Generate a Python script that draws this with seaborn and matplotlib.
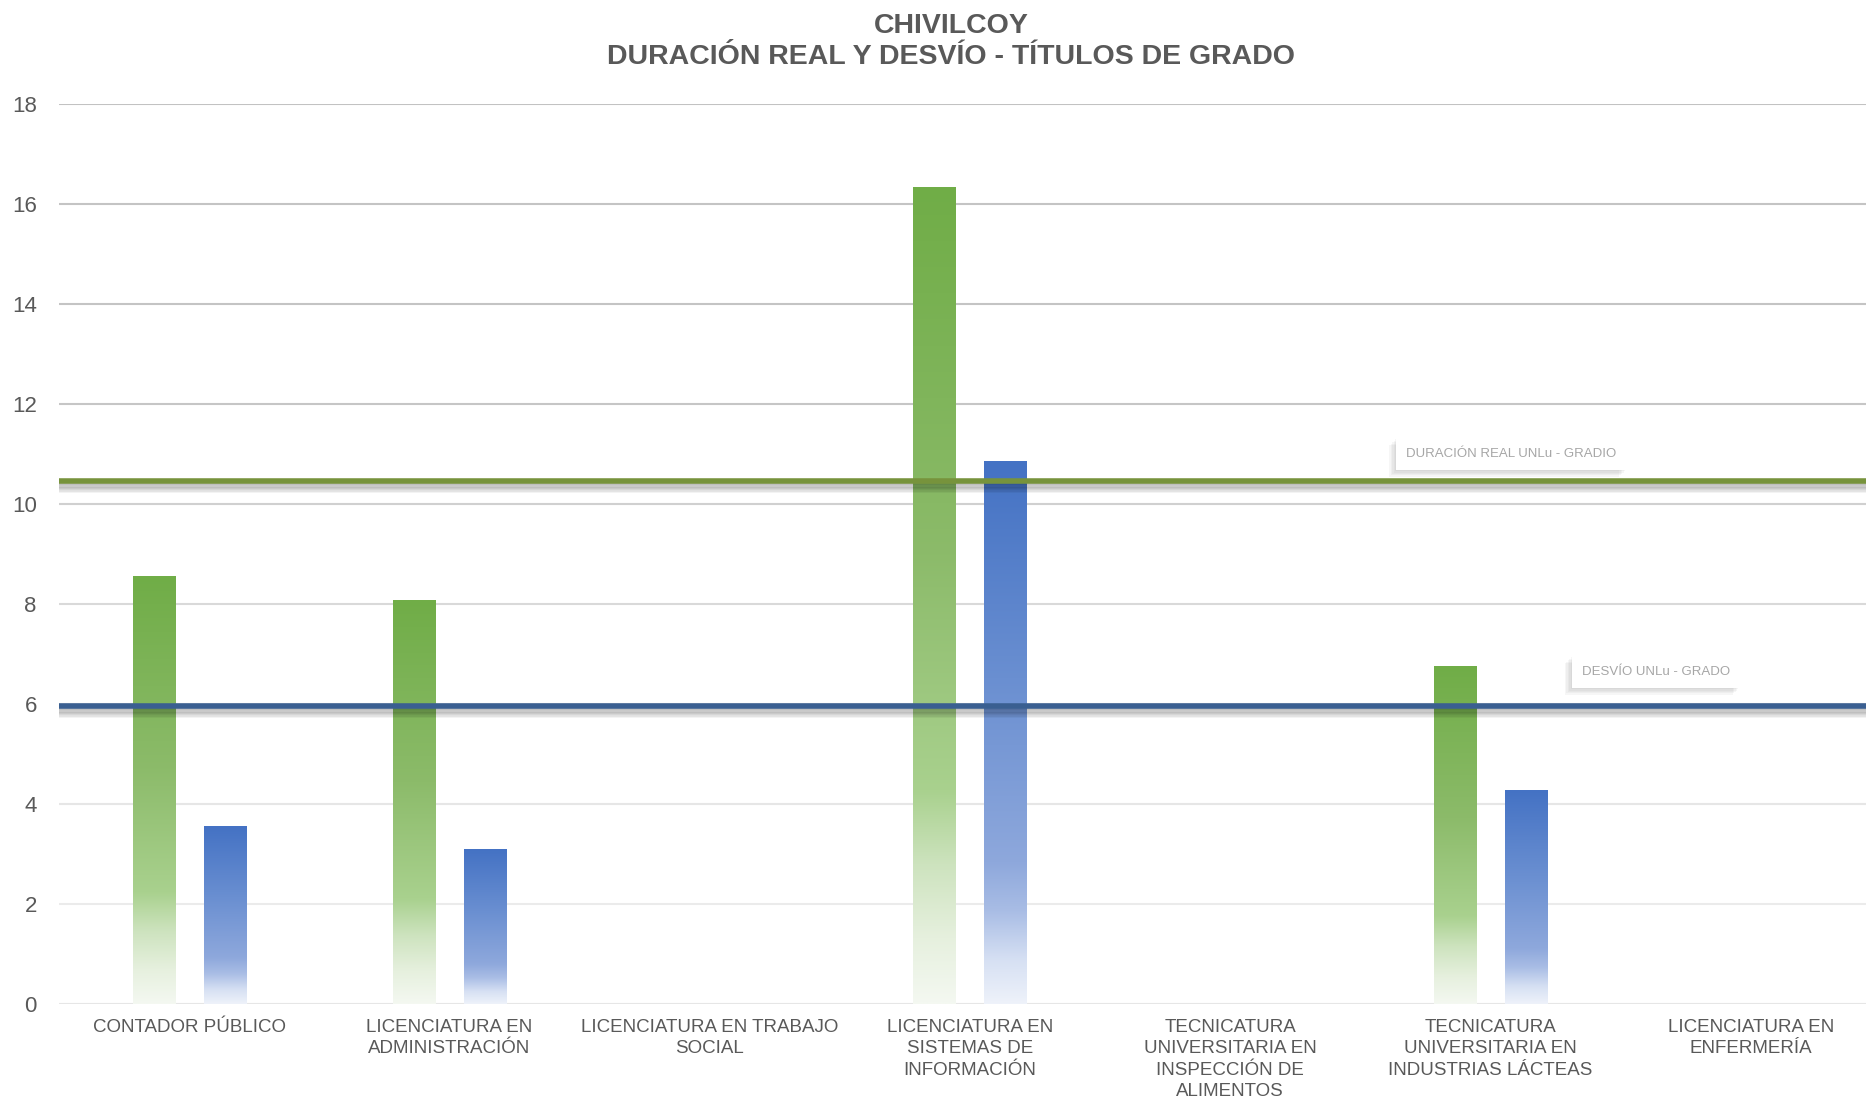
import numpy as np
import pandas as pd
import seaborn as sns
import matplotlib.pyplot as plt
import matplotlib.patheffects as pe
from matplotlib.colors import LinearSegmentedColormap

# --- data -------------------------------------------------------------------
carreras = [
    "CONTADOR PÚBLICO",
    "LICENCIATURA EN\nADMINISTRACIÓN",
    "LICENCIATURA EN TRABAJO\nSOCIAL",
    "LICENCIATURA EN\nSISTEMAS DE\nINFORMACIÓN",
    "TECNICATURA\nUNIVERSITARIA EN\nINSPECCIÓN DE\nALIMENTOS",
    "TECNICATURA\nUNIVERSITARIA EN\nINDUSTRIAS LÁCTEAS",
    "LICENCIATURA EN\nENFERMERÍA",
]
duracion_real = [8.55, 8.07, np.nan, 16.34, np.nan, 6.75, np.nan]
desvio = [3.55, 3.09, np.nan, 10.85, np.nan, 4.28, np.nan]
series = ["Duración real", "Desvío"]
duracion_unlu = 10.47
desvio_unlu = 5.97
y_ticks = [0, 2, 4, 6, 8, 10, 12, 14, 16, 18]

df = pd.DataFrame({
    "carrera": carreras * 2,
    "serie": [series[0]] * len(carreras) + [series[1]] * len(carreras),
    "valor": duracion_real + desvio,
})

# --- style ------------------------------------------------------------------
sns.set_theme(style="white")
plt.rcParams["font.family"] = ["Liberation Sans", "DejaVu Sans"]
GREY_TXT = "#595959"

fig = plt.figure(figsize=(18.66, 11), dpi=100)
ax = fig.add_axes([59 / 1866, 96 / 1100, 1822 / 1866, 900 / 1100])

sns.barplot(
    data=df, x="carrera", y="valor", hue="serie",
    order=carreras, hue_order=series,
    palette=["#70AD47", "#4472C4"], saturation=1,
    width=0.545, gap=0.405, dodge=True,
    errorbar=None, legend=False, ax=ax, zorder=2,
)

xlim = (-0.5, len(carreras) - 0.5)
ylim = (0, 18)

# vertical gradient fills (bottom -> top) for each series
grad_stops = [
    [(0.0, "#F4F8F1"), (0.08, "#E6F0DE"), (0.17, "#CDE3BE"), (0.26, "#A9D18E"),
     (0.55, "#8CBB6A"), (1.0, "#70AD47")],
    [(0.0, "#EEF2FA"), (0.08, "#D6E0F3"), (0.17, "#A9BDE5"), (0.26, "#8EA8DC"),
     (0.6, "#6A8FD1"), (1.0, "#4472C4")],
]
for container, stops in zip(ax.containers, grad_stops):
    cmap = LinearSegmentedColormap.from_list("grad", stops)
    img = cmap(np.linspace(0, 1, 256)).reshape(256, 1, 4)
    for patch in container.patches:
        h = patch.get_height()
        if not np.isfinite(h) or h <= 0:
            continue
        x0 = patch.get_x()
        x1 = x0 + patch.get_width()
        ax.imshow(img, extent=[x0, x1, 0, h], origin="lower",
                  aspect="auto", interpolation="bilinear", zorder=2)
        patch.set_visible(False)

# gridlines, lighter towards the bottom
grid_cols = ["#E6E6E6", "#EBEBEB", "#E6E6E6", "#DEDEDE", "#D9D9D9",
             "#D0D0D0", "#C6C6C6", "#C4C4C4", "#C4C4C4", "#C2C2C2"]
for yv, c in zip(y_ticks, grid_cols):
    ax.axhline(yv, color=c, lw=1.5, zorder=0)

# reference lines with soft drop shadow
shadow = [pe.SimpleLineShadow(offset=(0, -k), shadow_color="black", alpha=0.06)
          for k in (1, 2, 3, 4, 5, 6, 7)] + [pe.Normal()]
ax.axhline(duracion_unlu, color="#77933C", lw=4, zorder=4, path_effects=shadow)
ax.axhline(desvio_unlu, color="#3A5F91", lw=4, zorder=4, path_effects=shadow)

# labels for the reference lines, on white boxes with a soft shadow
box_fx = [pe.SimplePatchShadow(offset=(-k, -k), shadow_rgbFace="#606060", alpha=0.05)
          for k in (1, 2, 3, 4, 5)] + [pe.Normal()]
for xv, yv, txt in [(5.08, 11.0, "DURACIÓN REAL UNLu - GRADIO"),
                    (5.635, 6.64, "DESVÍO UNLu - GRADO")]:
    t = ax.text(xv, yv, txt, ha="center", va="center", fontsize=9.5,
                color="#A6A6A6", zorder=6,
                bbox=dict(boxstyle="square,pad=0.75", fc="white", ec="none"))
    t.get_bbox_patch().set_path_effects(box_fx)

# axes cosmetics
ax.set_xlim(*xlim)
ax.set_ylim(*ylim)
ax.set_yticks(y_ticks)
ax.set_yticklabels([str(v) for v in y_ticks])
ax.set_xlabel("")
ax.set_ylabel("")
for s in ax.spines.values():
    s.set_visible(False)
ax.tick_params(axis="y", length=0, pad=16, labelsize=16, labelcolor=GREY_TXT)
ax.tick_params(axis="x", length=0, pad=11, labelsize=13.5, labelcolor=GREY_TXT)
for lbl in ax.get_xticklabels():
    lbl.set_linespacing(1.32)

# title
fig.text(951 / 1866, 1 - 26 / 1100, "CHIVILCOY", ha="center", va="center",
         fontsize=20.5, fontweight="bold", color=GREY_TXT)
fig.text(951 / 1866, 1 - 57 / 1100, "DURACIÓN REAL Y DESVÍO - TÍTULOS DE GRADO",
         ha="center", va="center", fontsize=20.5, fontweight="bold", color=GREY_TXT)

fig.savefig("out.png", dpi=100, facecolor="white")
